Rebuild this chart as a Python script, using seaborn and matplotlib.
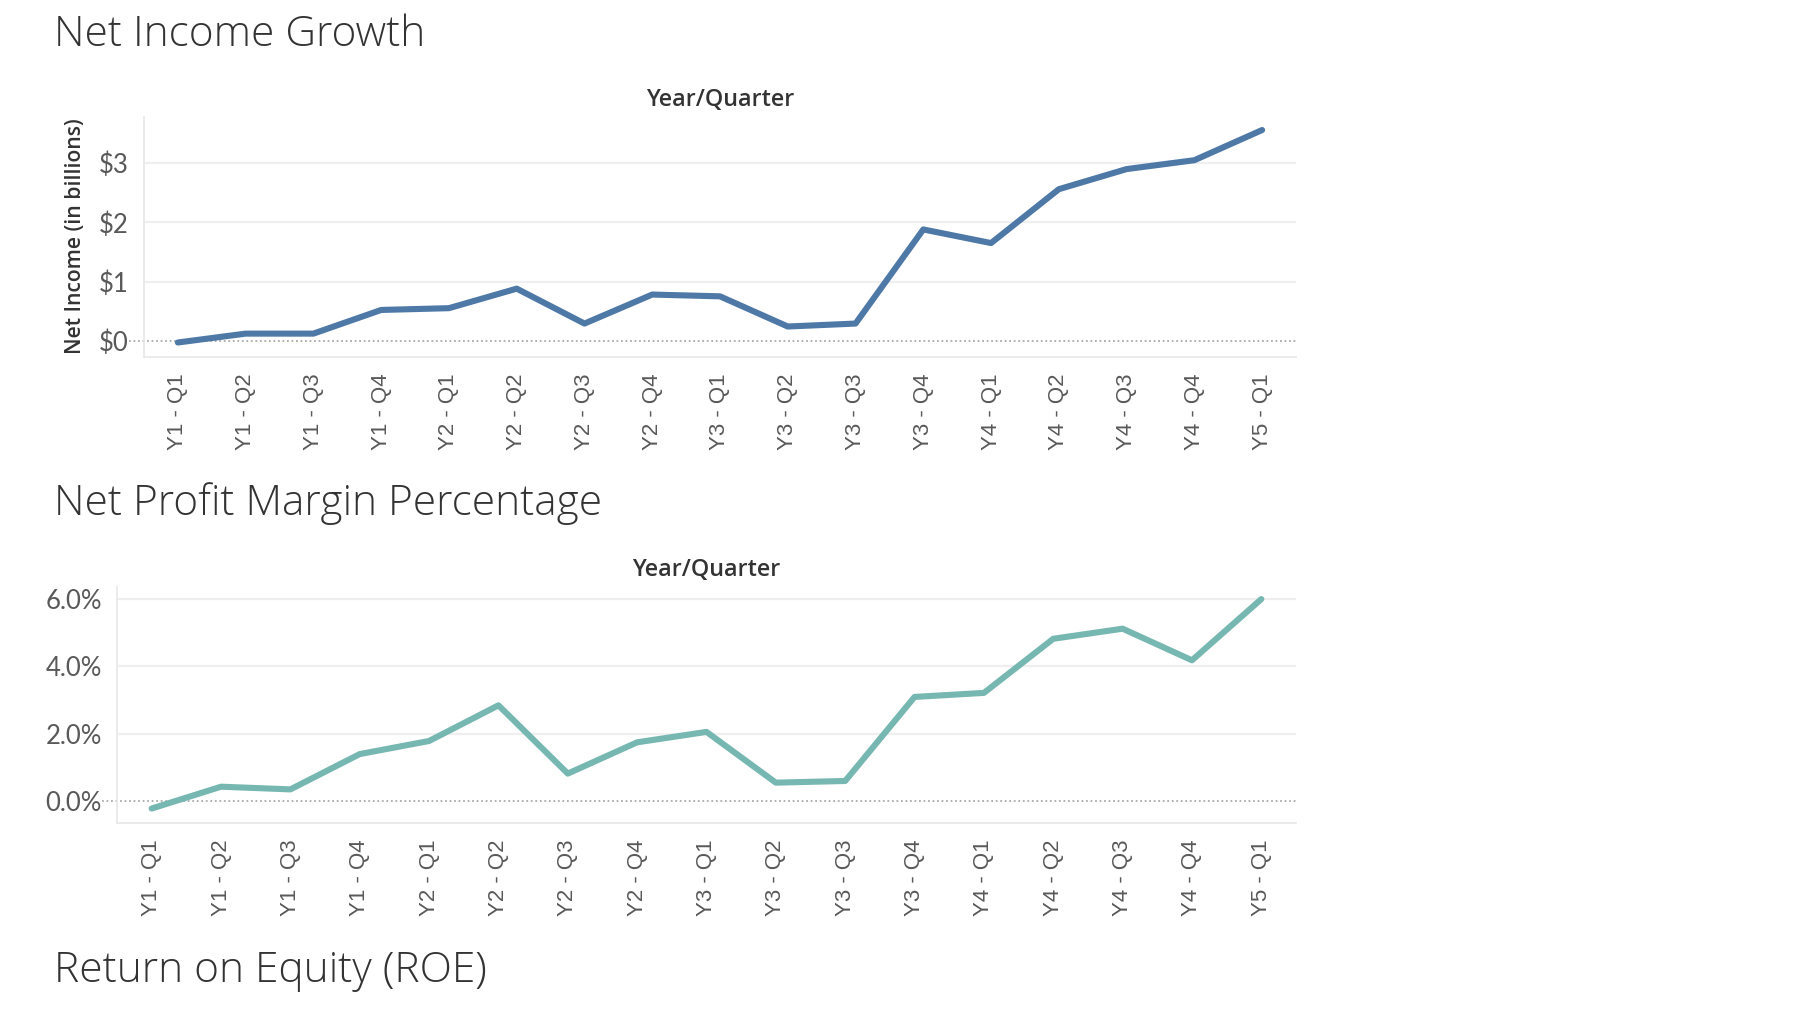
import matplotlib
matplotlib.use("Agg")
import matplotlib.pyplot as plt
import seaborn as sns
import pandas as pd
from matplotlib.ticker import FixedLocator, FuncFormatter

quarters = ["Y1 - Q1", "Y1 - Q2", "Y1 - Q3", "Y1 - Q4",
            "Y2 - Q1", "Y2 - Q2", "Y2 - Q3", "Y2 - Q4",
            "Y3 - Q1", "Y3 - Q2", "Y3 - Q3", "Y3 - Q4",
            "Y4 - Q1", "Y4 - Q2", "Y4 - Q3", "Y4 - Q4",
            "Y5 - Q1"]
net_income = [-0.03, 0.12, 0.12, 0.52, 0.55, 0.88, 0.29, 0.78,
              0.75, 0.24, 0.29, 1.88, 1.65, 2.56, 2.90, 3.05, 3.56]
profit_margin = [-0.23, 0.42, 0.34, 1.39, 1.78, 2.84, 0.81, 1.74,
                 2.05, 0.54, 0.59, 3.09, 3.21, 4.82, 5.12, 4.18, 6.00]
income_ticks = [0, 1, 2, 3]
margin_ticks = [0, 2, 4, 6]

titles = ["Net Income Growth", "Net Profit Margin Percentage", "Return on Equity (ROE)"]
x_title = "Year/Quarter"
y_label_income = "Net Income (in billions)"

df_income = pd.DataFrame({"quarter": quarters, "value": net_income})
df_margin = pd.DataFrame({"quarter": quarters, "value": profit_margin})

sns.set_theme(style="white")
plt.rcParams["font.family"] = ["Lato", "DejaVu Sans"]

W, H = 1818, 1030
fig = plt.figure(figsize=(W / 100, H / 100), dpi=100)
fig.patch.set_facecolor("white")

def frac_box(left, top, right, bottom):
    return [left / W, 1 - bottom / H, (right - left) / W, (bottom - top) / H]

ax1 = fig.add_axes(frac_box(144, 117, 1296, 357))
ax2 = fig.add_axes(frac_box(117, 587, 1296, 823))

GRID = "#efefef"
SPINE = "#e8e8e8"
TICKC = "#595959"
TEXT = "#333333"
XFONT = ["Liberation Sans", "DejaVu Sans"]

def style_axes(ax, ticks, ylim, fmt):
    ax.set_xlim(-0.5, len(quarters) - 0.5)
    ax.set_ylim(*ylim)
    ax.yaxis.set_major_locator(FixedLocator(ticks))
    ax.yaxis.set_major_formatter(FuncFormatter(fmt))
    for t in ticks:
        if t != 0:
            ax.axhline(t, color=GRID, lw=1.6, zorder=0)
    ax.plot([-0.013, 1], [0, 0], transform=ax.get_yaxis_transform(),
            color="#aaaaaa", lw=1.3, ls=(0, (1, 1.5)), clip_on=False, zorder=1)
    for s in ["top", "right"]:
        ax.spines[s].set_visible(False)
    for s in ["left", "bottom"]:
        ax.spines[s].set_color(SPINE)
        ax.spines[s].set_linewidth(1.2)
    ax.set_xticks(range(len(quarters)))
    ax.set_xticklabels(quarters, rotation=90)
    for lab in ax.get_xticklabels():
        lab.set_fontfamily(XFONT)
        lab.set_fontsize(16)
        lab.set_color(TICKC)
    ax.set_xticks([i - 0.5 for i in range(len(quarters) + 1)], minor=True)
    ax.tick_params(axis="x", which="major", length=0, pad=12)
    ax.tick_params(axis="x", which="minor", length=7, width=1.2, color=SPINE,
                   direction="out")
    ax.tick_params(axis="y", length=0, pad=11, labelsize=18.5, labelcolor=TICKC)
    ax.set_xlabel("")
    ax.set_ylabel("")
    ax.set_facecolor("white")

sns.lineplot(data=df_income, x="quarter", y="value", ax=ax1,
             color="#4e79a7", lw=4.4, sort=False, zorder=3)
style_axes(ax1, income_ticks, (-0.275, 3.78), lambda v, p: f"${v:.0f}")

sns.lineplot(data=df_margin, x="quarter", y="value", ax=ax2,
             color="#76b7b2", lw=4.4, sort=False, zorder=3)
style_axes(ax2, margin_ticks, (-0.66, 6.36), lambda v, p: f"{v:.1f}%")

# axis titles on top
for xc, base in [(720, 106), (706.5, 576)]:
    fig.text(xc / W, 1 - base / H, x_title, ha="center", va="baseline",
             fontsize=16.8, fontweight="semibold", color=TEXT,
             family=["Open Sans", "DejaVu Sans"])

fig.text(75 / W, 1 - 236 / H, y_label_income, rotation=90, ha="center",
         va="center", fontsize=15.2, fontweight="semibold", color=TEXT,
         family=["Open Sans", "DejaVu Sans"])

# section titles
for t, base in zip(titles, [46, 515, 982]):
    fig.text(54 / W, 1 - base / H, t, ha="left", va="baseline",
             fontsize=30.5, fontweight="light", color=TEXT,
             family=["Open Sans", "DejaVu Sans"])

fig.savefig("out.png", dpi=100, facecolor="white")
